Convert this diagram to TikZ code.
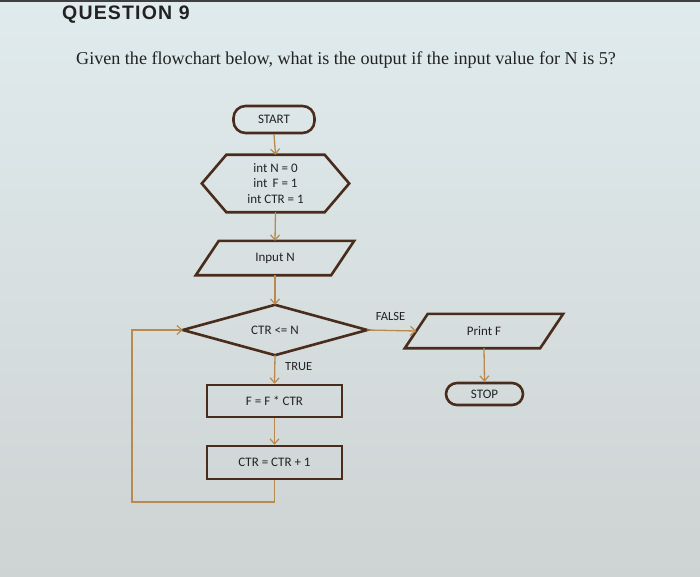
\documentclass[tikz,border=0pt]{standalone}
\usepackage{fontspec}
\setmainfont{Liberation Serif}
\newfontfamily\flowfont{Carlito}
\newfontfamily\titlefont[LetterSpace=6]{Liberation Sans}
\usetikzlibrary{arrows.meta,calc,shapes.geometric}
\definecolor{bgtop}{HTML}{E0EBED}
\definecolor{bgbot}{HTML}{CED3D3}
\definecolor{shapeline}{HTML}{4A2C1C}
\definecolor{connline}{HTML}{B88A4E}
\definecolor{txt}{HTML}{222222}
\tikzset{
  box/.style={draw=shapeline, line width=2.6pt, minimum width=135pt, inner sep=0pt, font=\flowfont\fontsize{13}{15}\selectfont, text=txt},
  term/.style={draw=shapeline, line width=2.6pt, rounded corners=12pt, inner sep=0pt, font=\flowfont\fontsize{13}{15}\selectfont, text=txt},
  ghost/.style={inner sep=0pt, font=\flowfont\fontsize{13}{15.5}\selectfont, text=txt, align=center},
  outline/.style={draw=shapeline, line width=2.6pt, line join=miter},
  conn/.style={draw=connline, line width=1.3pt, -{Straight Barb[length=5pt,width=9pt,line width=1.2pt]}},
  lbl/.style={font=\flowfont\fontsize{12.5}{14}\selectfont, text=txt, inner sep=0pt}
}
\begin{document}
\begin{tikzpicture}[x=1pt,y=-1pt]
\useasboundingbox (0,0) rectangle (700,577);
\shade[top color=bgtop, bottom color=bgbot] (0,0) rectangle (700,577);
\fill[black!75] (0,0) rectangle (700,2.5);

\node[anchor=base west, inner sep=0pt, font=\titlefont\bfseries\fontsize{19.5}{22}\selectfont, text=txt] (title) at (62,20) {QUESTION 9};
\node[anchor=base west, inner sep=0pt, font=\fontsize{18.1}{20}\selectfont, text=txt] (question) at (76,65) {Given the flowchart below, what is the output if the input value for N is 5?};

% START
\node[term, minimum width=81pt, minimum height=27pt] (start) at (274,119.5) {START};
% hexagon init
\node[ghost, minimum width=147pt, minimum height=57pt] (init) at (275.5,183.5) {int N = 0\\int\ \,F = 1\\int CTR = 1};
\draw[outline] (init.west) -- ($(init.north west)+(24.5,0)$) -- ($(init.north east)+(-24.5,0)$) -- (init.east) -- ($(init.south east)+(-24.5,0)$) -- ($(init.south west)+(24.5,0)$) -- cycle;
% input N
\node[ghost, minimum width=158pt, minimum height=34pt] (input) at (275,258) {Input N};
\draw[outline] (input.south west) -- ($(input.north west)+(23,0)$) -- (input.north east) -- ($(input.south east)+(-23,0)$) -- cycle;
% decision
\node[ghost, minimum width=184pt, minimum height=50pt] (dec) at (275,330) {CTR <= N};
\draw[outline] (dec.west) -- (dec.north) -- (dec.east) -- (dec.south) -- cycle;
% process boxes
\node[box, minimum height=32pt] (mult) at (274.5,401) {F = F * CTR};
\node[box, minimum height=33pt] (inc) at (274.5,462.5) {CTR = CTR + 1};
% print F
\node[ghost, minimum width=158pt, minimum height=34pt] (print) at (484,331) {Print F};
\draw[outline] (print.south west) -- ($(print.north west)+(23,0)$) -- (print.north east) -- ($(print.south east)+(-23,0)$) -- cycle;
\coordinate (printin) at ($(print.west)+(11.5,0)$);
% STOP
\node[term, minimum width=77pt, minimum height=22pt, rounded corners=11pt] (stop) at (484.5,394) {STOP};

% connectors
\draw[conn] (start.south) -- (init.north);
\draw[conn] (init.south) -- (input.north);
\draw[conn] (input.south) -- (dec.north);
\draw[conn] (dec.south) -- (mult.north);
\draw[conn] (mult.south) -- (inc.north);
\coordinate (loop) at (132,502);
\draw[conn] (inc.south) |- (loop) |- (dec.west);
\draw[conn] (dec.east) -- (printin);
\draw[conn] (print.south) -- (stop.north);

\node[lbl, anchor=west] (truelbl) at (285,367) {TRUE};
\node[lbl, anchor=center] (falselbl) at (390.5,316) {FALSE};
\end{tikzpicture}
\end{document}
